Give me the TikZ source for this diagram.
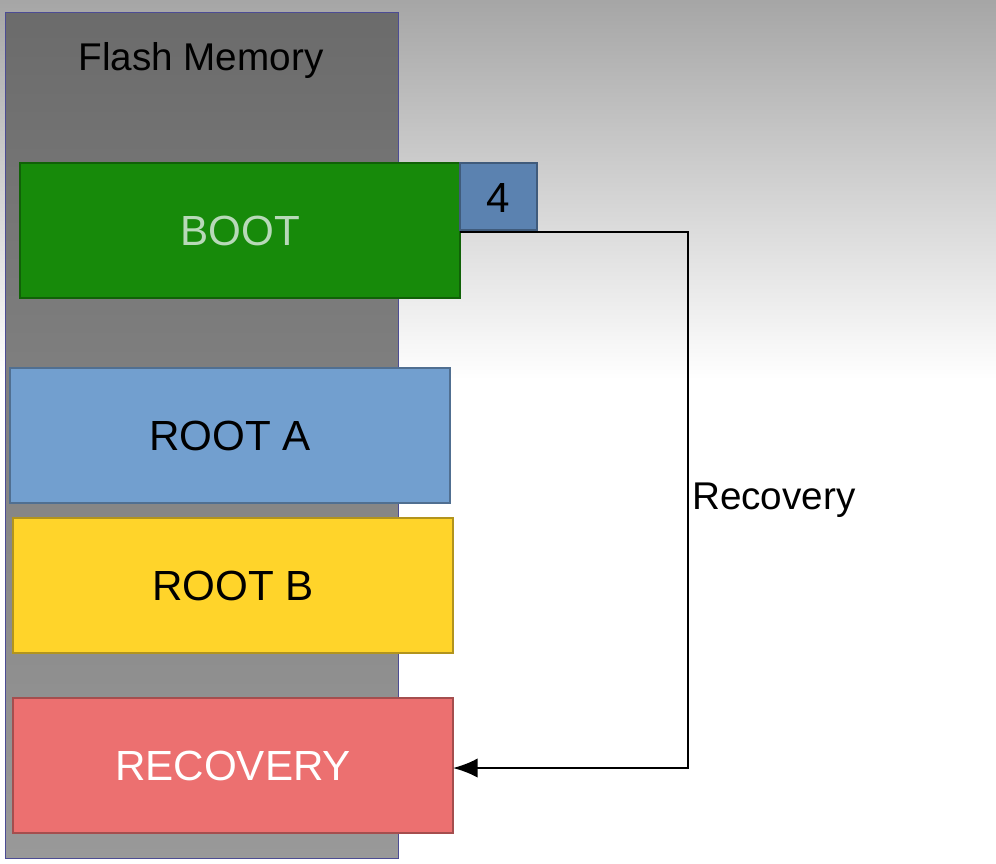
\documentclass[tikz,border=0pt]{standalone}
\usepackage{fontspec}
\setmainfont{Liberation Sans}
\usetikzlibrary{arrows.meta}
\begin{document}
\begin{tikzpicture}[x=0.02cm,y=-0.02cm,
  blk/.style={draw=#1!70!black,line width=0.6pt,fill=#1},
  lbl/.style={font=\fontsize{24}{28}\selectfont}]
\useasboundingbox (0,0) rectangle (996,863);
\shade[top color=black!35,bottom color=white] (0,0) rectangle (996,380);
\shade[top color=black!58,bottom color=black!40,draw=black!30!blue!40!gray] (5,12) rectangle (398,858);
\node[lbl,font=\fontsize{22}{26}\selectfont] (fm) at (201,60) {Flash Memory};
\definecolor{cboot}{HTML}{178A0A}
\definecolor{cfour}{HTML}{5B82B0}
\definecolor{cra}{HTML}{729FCF}
\definecolor{crb}{HTML}{FFD42A}
\definecolor{crec}{HTML}{EC7070}
\draw[blk=cboot] (20,163) rectangle (460,298);
\node[lbl,text=green!15!white!85!black] (boot) at (240,231) {BOOT};
\draw[blk=cfour] (460,163) rectangle (537,230);
\node[lbl] (four) at (498,198) {4};
\draw[blk=cra] (10,368) rectangle (450,503);
\node[lbl] (ra) at (230,436) {ROOT A};
\draw[blk=crb] (13,518) rectangle (453,653);
\node[lbl] (rb) at (233,586) {ROOT B};
\draw[blk=crec] (13,698) rectangle (453,833);
\node[lbl,text=white] (rec) at (233,766) {RECOVERY};
\coordinate (s) at (460,232);
\coordinate (e) at (453,768);
\draw[line width=1.2pt,-{Latex[length=14pt,width=11pt]}] (s) -- (688,232) -- (688,768) -- (e);
\node[lbl,font=\fontsize{22}{26}\selectfont,anchor=west] (rl) at (686,500) {Recovery};
\end{tikzpicture}
\end{document}
